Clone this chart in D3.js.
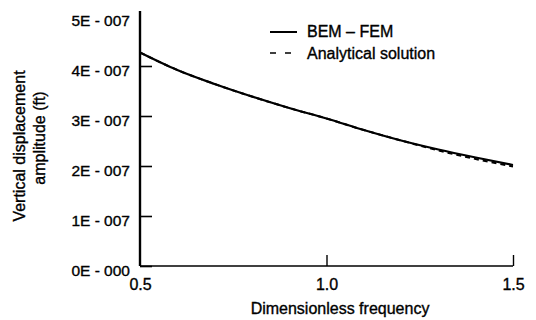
<!DOCTYPE html>
<html><head><meta charset="utf-8">
<script src="https://cdn.jsdelivr.net/npm/d3@7"></script>
<style>
html,body{margin:0;padding:0;background:#fff;}
text{font-family:"Liberation Sans",Arial,sans-serif;fill:#000;stroke:#000;stroke-width:0.35px;}
</style></head>
<body><svg id="c" width="536" height="320"></svg>
<script>
// Data
const frequency = [0.5, 0.6, 0.7, 0.8, 0.9, 1.0, 1.1, 1.2, 1.3, 1.4, 1.5];
const bemFem     = [4.27e-7, 3.92e-7, 3.64e-7, 3.39e-7, 3.16e-7, 2.95e-7, 2.72e-7, 2.51e-7, 2.33e-7, 2.17e-7, 2.02e-7];
const analytical = [4.27e-7, 3.92e-7, 3.64e-7, 3.39e-7, 3.16e-7, 2.95e-7, 2.72e-7, 2.51e-7, 2.31e-7, 2.14e-7, 1.99e-7];
const yTicks = [0, 1e-7, 2e-7, 3e-7, 4e-7, 5e-7];
const yTickLabels = ["0E - 000", "1E - 007", "2E - 007", "3E - 007", "4E - 007", "5E - 007"];
const xTicks = [0.5, 1.0, 1.5];
const xTickLabels = ["0.5", "1.0", "1.5"];
const seriesNames = ["BEM \u2013 FEM", "Analytical solution"];
const xTitle = "Dimensionless frequency";
const yTitle = ["Vertical displacement", "amplitude (ft)"];

const svg = d3.select("#c");
const x = d3.scaleLinear().domain([0.5, 1.5]).range([140, 513]);
const y = d3.scaleLinear().domain([0, 5e-7]).range([266, 16]);

// Y axis
const yAxis = d3.axisRight(y).tickValues(yTicks).tickSize(12)
  .tickFormat((d, i) => yTickLabels[i]);
const gy = svg.append("g").attr("transform", "translate(140,0)").call(yAxis);
gy.select(".domain").remove();
gy.selectAll(".tick line").attr("stroke", "#000").attr("stroke-width", 1.6)
  .filter(d => d === 5e-7).remove();
gy.selectAll(".tick text").attr("x", -10).attr("dy", "0.6em")
  .attr("text-anchor", "end").style("font-size", "15.5px");
svg.append("line").attr("x1", 140).attr("x2", 140).attr("y1", 11).attr("y2", y(0))
  .attr("stroke", "#000").attr("stroke-width", 2.4);

// X axis
const xAxis = d3.axisTop(x).tickValues(xTicks).tickSize(11)
  .tickFormat((d, i) => xTickLabels[i]);
const gx = svg.append("g").attr("transform", `translate(0,${y(0)})`).call(xAxis);
gx.select(".domain").remove();
gx.selectAll(".tick line").attr("stroke", "#000").attr("stroke-width", 1.4)
  .filter(d => d === 0.5).remove();
gx.selectAll(".tick text").attr("y", 24).attr("dy", 0)
  .attr("text-anchor", "middle").style("font-size", "16px");
svg.append("line").attr("x1", 140).attr("x2", x(1.5)).attr("y1", y(0)).attr("y2", y(0))
  .attr("stroke", "#000").attr("stroke-width", 1.6);

// Lines
const line = d3.line().x((d, i) => x(frequency[i])).y(d => y(d)).curve(d3.curveMonotoneX);
svg.append("path").datum(analytical).attr("d", line).attr("fill", "none")
  .attr("stroke", "#000").attr("stroke-width", 2).attr("stroke-dasharray", "5,4");
svg.append("path").datum(bemFem).attr("d", line).attr("fill", "none")
  .attr("stroke", "#000").attr("stroke-width", 2.2);

// Legend
const lg = svg.append("g");
lg.append("line").attr("x1", 270).attr("x2", 297).attr("y1", 32).attr("y2", 32)
  .attr("stroke", "#000").attr("stroke-width", 2);
lg.append("line").attr("x1", 270).attr("x2", 297).attr("y1", 53).attr("y2", 53)
  .attr("stroke", "#000").attr("stroke-width", 1.6).attr("stroke-dasharray", "6,9");
lg.append("text").attr("x", 307).attr("y", 37).style("font-size", "16px").text(seriesNames[0]);
lg.append("text").attr("x", 307).attr("y", 59).style("font-size", "16px").text(seriesNames[1]);

// Titles
svg.append("text").attr("x", 340).attr("y", 314).attr("text-anchor", "middle")
  .style("font-size", "16px").text(xTitle);
svg.append("text").attr("transform", "translate(25,146) rotate(-90)").attr("text-anchor", "middle")
  .style("font-size", "16px").text(yTitle[0]);
svg.append("text").attr("transform", "translate(45,138) rotate(-90)").attr("text-anchor", "middle")
  .style("font-size", "16px").text(yTitle[1]);
</script></body></html>
